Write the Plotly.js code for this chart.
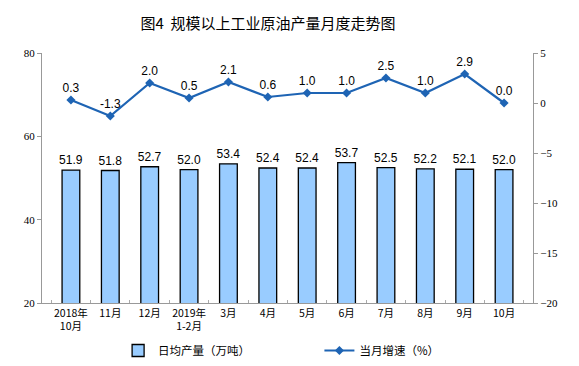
<!DOCTYPE html>
<html><head><meta charset="utf-8">
<script src="https://cdn.plot.ly/plotly-3.0.1.min.js"></script>
<style>body{margin:0;background:#fff}#c{width:579px;height:366px}</style>
</head><body><div id="c"></div>
<script>
const categories = ["2018年<br>10月","11月","12月","2019年<br>1-2月","3月","4月","5月","6月","7月","8月","9月","10月"];
const output = [51.9,51.8,52.7,52.0,53.4,52.4,52.4,53.7,52.5,52.2,52.1,52.0];
const growth = [0.3,-1.3,2.0,0.5,2.1,0.6,1.0,1.0,2.5,1.0,2.9,0.0];
const leftTicks = [20,40,60,80];
const rightTicks = [-20,-15,-10,-5,0,5];

const bar = {
  type:'bar', x:categories, y:output, name:'日均产量（万吨）', legend:'legend',
  marker:{color:'#99CCFF', line:{color:'#000', width:1.3}},
  width:0.45,
  text:output.map(v=>v.toFixed(1)), textposition:'outside', constraintext:'none',
  textfont:{family:'Arial, Liberation Sans, sans-serif', size:12, color:'#000'},
  cliponaxis:false
};
const line = {
  type:'scatter', mode:'lines+markers+text', x:categories, y:growth, yaxis:'y2',
  name:'当月增速（%）', legend:'legend2',
  line:{color:'#1E64B4', width:2.2},
  marker:{symbol:'diamond', size:7, color:'#1E64B4'},
  text:growth.map(v=>v.toFixed(1)), textposition:'top center',
  textfont:{family:'Arial, Liberation Sans, sans-serif', size:12, color:'#000'},
  cliponaxis:false
};
const legFont = {family:'Noto Sans CJK SC, sans-serif', size:11.5, color:'#000'};
const layout = {
  width:579, height:366,
  margin:{l:42, r:46, t:53, b:63, autoexpand:false},
  paper_bgcolor:'#fff', plot_bgcolor:'#fff',
  title:{text:'图4  规模以上工业原油产量月度走势图', x:0.463, y:0.935, xanchor:'center', yanchor:'middle',
    font:{family:'Noto Sans CJK SC, sans-serif', size:15, color:'#000', weight:'normal'}},
  showlegend:true,
  legend:{orientation:'h', x:0.155, xanchor:'left', y:-0.19, yanchor:'middle', font:legFont, itemwidth:30},
  legend2:{orientation:'h', x:0.565, xanchor:'left', y:-0.19, yanchor:'middle', font:legFont, itemwidth:30},
  bargap:0.55,
  xaxis:{type:'category', showline:true, linecolor:'#999', linewidth:1, ticks:'inside', tickson:'boundaries',
    ticklen:3, tickcolor:'#aaa', tickangle:0,
    tickfont:{family:'Noto Sans CJK SC, sans-serif', size:10.5, color:'#000'}, showgrid:false},
  yaxis:{range:[20,80], tickvals:leftTicks, showline:true, linecolor:'#999', ticks:'outside',
    ticklen:4, tickcolor:'#999', showgrid:false, zeroline:false,
    tickfont:{family:'Times New Roman, Liberation Serif, serif', size:11, color:'#000'}},
  yaxis2:{range:[-20,5], tickvals:rightTicks, overlaying:'y', side:'right', showline:true,
    linecolor:'#999', ticks:'outside', ticklen:4, tickcolor:'#999', showgrid:false, zeroline:false,
    tickfont:{family:'Times New Roman, Liberation Serif, serif', size:11, color:'#000'}}
};
Plotly.newPlot('c',[bar,line],layout,{displayModeBar:false});
</script></body></html>
